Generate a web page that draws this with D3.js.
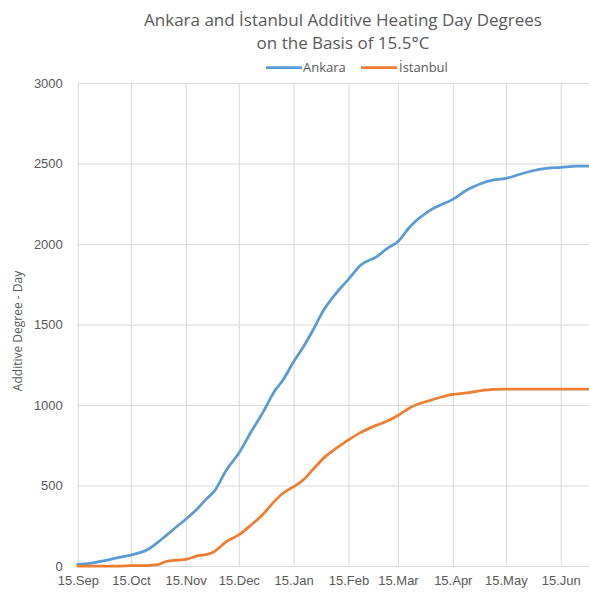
<!DOCTYPE html>
<html>
<head>
<meta charset="utf-8">
<script src="https://cdn.jsdelivr.net/npm/d3@7"></script>
<style>
  html, body { margin: 0; padding: 0; background: #fff; }
  svg { display: block; font-family: "Open Sans", "Noto Sans", sans-serif; }
</style>
</head>
<body>
<svg id="chart" width="589" height="593"></svg>
<script>
// ---- Data ----
const dates = [
  "2018-09-15","2018-09-22","2018-09-30","2018-10-07","2018-10-15","2018-10-24","2018-10-30",
  "2018-11-04","2018-11-10","2018-11-15","2018-11-22","2018-11-27","2018-12-01","2018-12-08",
  "2018-12-15","2018-12-22","2018-12-29","2019-01-04","2019-01-09","2019-01-15","2019-01-20",
  "2019-01-26","2019-02-01","2019-02-08","2019-02-15","2019-02-22","2019-03-03","2019-03-09",
  "2019-03-15","2019-03-22","2019-04-01","2019-04-08","2019-04-15","2019-04-23","2019-04-30",
  "2019-05-08","2019-05-15","2019-05-23","2019-05-30","2019-06-07","2019-06-15","2019-06-24",
  "2019-07-01"
];
const ankara = [
  10, 17, 33, 50, 68, 99, 145,
  190, 245, 290, 360, 420, 462, 596,
  700, 834, 960, 1083, 1155, 1269, 1352,
  1466, 1590, 1694, 1780, 1870, 1921, 1973,
  2015, 2110, 2201, 2242, 2277, 2335, 2371,
  2398, 2408, 2433, 2455, 2470, 2476, 2484,
  2484
];
const istanbul = [
  0, 0, 0, 0, 2, 3, 8,
  28, 36, 41, 64, 72, 89, 151,
  193, 255, 325, 400, 452, 493, 530,
  600, 670, 730, 783, 830, 875, 900,
  935, 985, 1025, 1048, 1066, 1075, 1088,
  1097, 1098, 1098, 1098, 1098, 1098, 1098,
  1098
];
const seriesNames = ["Ankara", "İstanbul"];
const seriesColors = ["#5B9BD5", "#ED7D31"];
const xTickDates = ["2018-09-15","2018-10-15","2018-11-15","2018-12-15","2019-01-15",
                    "2019-02-15","2019-03-15","2019-04-15","2019-05-15","2019-06-15"];
const yTicks = [0, 500, 1000, 1500, 2000, 2500, 3000];
const titleLines = ["Ankara and İstanbul Additive Heating Day Degrees", "on the Basis of 15.5°C"];
const yAxisTitle = "Additive Degree - Day";

// ---- Setup ----
const parse = d3.timeParse("%Y-%m-%d");
const fmt = d3.timeFormat("%d.%b");
const svg = d3.select("#chart");
const plotL = 77.8, plotR = 589, plotT = 83, plotB = 566;

const x = d3.scaleTime()
  .domain([parse("2018-09-15"), parse("2019-07-01")])
  .range([plotL, plotR]);
const y = d3.scaleLinear().domain([0, 3000]).range([plotB, plotT]);

const textColor = "#595959";
const gridColor = "#d9d9d9";

// Horizontal grid + y labels
const yAxis = svg.append("g")
  .attr("transform", `translate(${plotL},0)`)
  .call(d3.axisLeft(y).tickValues(yTicks).tickSize(-(plotR - plotL)).tickPadding(15)
        .tickFormat(d3.format("d")));
yAxis.select(".domain").remove();
yAxis.selectAll("line").attr("stroke", gridColor).attr("stroke-width", 1);
yAxis.selectAll("text").attr("fill", textColor).style("font-size", "13px");

// Vertical grid + x labels
const xAxis = svg.append("g")
  .attr("transform", `translate(0,${plotB})`)
  .call(d3.axisBottom(x).tickValues(xTickDates.map(parse)).tickSize(-(plotB - plotT))
        .tickPadding(10).tickFormat(fmt));
xAxis.select(".domain").remove();
xAxis.selectAll("line").attr("stroke", gridColor).attr("stroke-width", 1);
xAxis.selectAll("text").attr("fill", textColor).style("font-size", "13px");

// Lines
const parsedDates = dates.map(parse);
const seriesData = [ankara, istanbul];
const line = d3.line()
  .x((d, i) => x(parsedDates[i]))
  .y(d => y(d))
  .curve(d3.curveMonotoneX);

seriesData.forEach((vals, k) => {
  svg.append("path")
    .datum(vals)
    .attr("fill", "none")
    .attr("stroke", seriesColors[k])
    .attr("stroke-width", 2.75)
    .attr("stroke-linejoin", "round")
    .attr("stroke-linecap", "round")
    .attr("d", line);
});

// Title
svg.append("text")
  .attr("x", 343).attr("y", 26)
  .attr("text-anchor", "middle")
  .attr("fill", textColor)
  .style("font-size", "17px")
  .text(titleLines[0]);
svg.append("text")
  .attr("x", 343).attr("y", 48.5)
  .attr("text-anchor", "middle")
  .attr("fill", textColor)
  .style("font-size", "17px")
  .text(titleLines[1]);

// Legend
const legendItems = [
  { name: seriesNames[0], color: seriesColors[0], x1: 266, x2: 302, tx: 303 },
  { name: seriesNames[1], color: seriesColors[1], x1: 361, x2: 397, tx: 399 }
];
legendItems.forEach(it => {
  svg.append("line")
    .attr("x1", it.x1).attr("x2", it.x2)
    .attr("y1", 67.7).attr("y2", 67.7)
    .attr("stroke", it.color).attr("stroke-width", 2.75);
  svg.append("text")
    .attr("x", it.tx).attr("y", 72)
    .attr("fill", textColor)
    .style("font-size", "13px")
    .text(it.name);
});

// Y axis title
svg.append("text")
  .attr("transform", `translate(22,331) rotate(-90)`)
  .attr("text-anchor", "middle")
  .attr("fill", textColor)
  .style("font-size", "12px")
  .text(yAxisTitle);
</script>
</body>
</html>
